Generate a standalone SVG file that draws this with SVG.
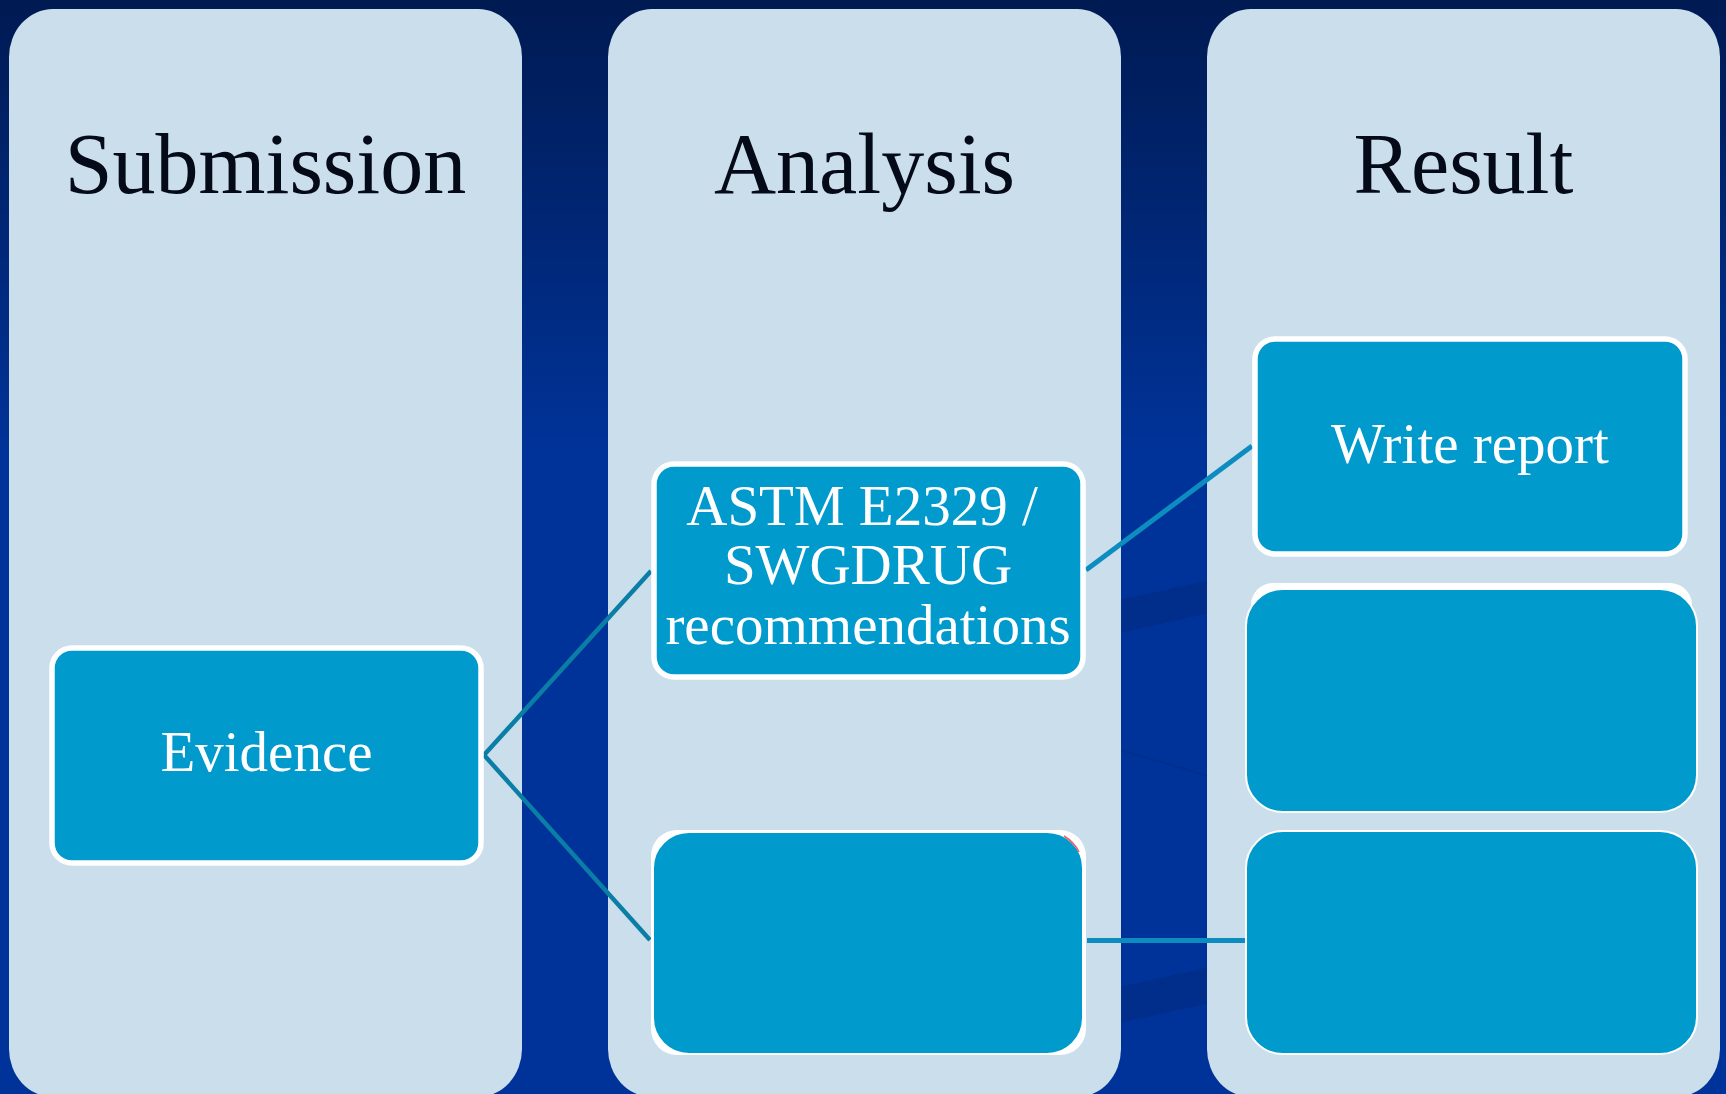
<svg xmlns="http://www.w3.org/2000/svg" width="1726" height="1094" viewBox="0 0 1726 1094">
  <defs>
    <linearGradient id="bg" x1="0" y1="0" x2="0" y2="1">
      <stop offset="0" stop-color="#001a52"/>
      <stop offset="0.42" stop-color="#00339a"/>
      <stop offset="1" stop-color="#003399"/>
    </linearGradient>
    <style>
      .col { fill: #cbdeeb; }
      .title { font-family: "Liberation Serif", "Times New Roman", serif; font-size: 86px; fill: #050a18; text-anchor: middle; }
      .node { fill: #019acc; stroke: #ffffff; stroke-width: 5.5; }
      .thin { fill: #019acc; stroke: #ffffff; stroke-width: 2; }
      .label { font-family: "Liberation Serif", "Times New Roman", serif; font-size: 57px; fill: #ffffff; text-anchor: middle; }
      .conn { fill: none; stroke: #0b7ea6; stroke-width: 4.5; }
      .conn2 { fill: none; stroke: #0d8dbf; stroke-width: 5; }
      .stripe { fill: #002e8a; }
    </style>
  </defs>

  <rect x="0" y="0" width="1726" height="1094" fill="url(#bg)"/>
  <g id="background-stripes">
    <polygon class="stripe" points="1110,602 1215,579 1215,612 1110,635"/>
    <line x1="1110" y1="747" x2="1215" y2="778" stroke="#002f8c" stroke-width="2"/>
    <polygon class="stripe" points="1110,989 1215,966 1215,1002 1110,1025"/>
  </g>

  <g id="columns">
    <g id="col-submission">
      <rect class="col" x="9" y="9" width="513" height="1088" rx="44" ry="48"/>
      <text class="title" x="265.5" y="193">Submission</text>
    </g>
    <g id="col-analysis">
      <rect class="col" x="608" y="9" width="513" height="1088" rx="44" ry="48"/>
      <text class="title" x="864.5" y="193">Analysis</text>
    </g>
    <g id="col-result">
      <rect class="col" x="1207" y="9" width="513" height="1088" rx="44" ry="48"/>
      <text class="title" x="1463.5" y="193">Result</text>
    </g>
  </g>

  <g id="connectors">
    <path class="conn" d="M484,755 L651,571"/>
    <path class="conn" d="M484,755 L650,940"/>
    <path class="conn2" d="M1086,570 L1252,446"/>
    <path class="conn2" d="M1087,940.5 L1245,940.5"/>
  </g>

  <g id="node-evidence">
    <rect class="node" x="52" y="648" width="429" height="215" rx="20"/>
    <text class="label" x="266.5" y="771" font-size="56">Evidence</text>
  </g>

  <g id="node-astm">
    <rect class="node" x="654" y="464" width="429" height="213" rx="20"/>
    <text class="label" x="862" y="525">ASTM E2329 /</text>
    <text class="label" x="868" y="584">SWGDRUG</text>
    <text class="label" x="868" y="644">recommendations</text>
  </g>

  <g id="node-analysis-2">
    <rect x="651" y="830" width="435" height="225" rx="26" fill="#ffffff"/>
    <rect class="thin" x="653" y="832" width="430" height="222" rx="36" stroke-width="1.5"/>
    <path d="M1064,836 Q1074,842 1079,852" fill="none" stroke="#e8343a" stroke-width="1.5" opacity="0.8"/>
  </g>

  <g id="node-write-report">
    <rect class="node" x="1255" y="339" width="430" height="215" rx="20"/>
    <text class="label" x="1470" y="463">Write report</text>
  </g>

  <g id="node-result-2">
    <rect x="1251" y="583" width="441" height="60" rx="22" fill="#ffffff"/>
    <rect class="thin" x="1246" y="589" width="451" height="223" rx="37"/>
  </g>

  <g id="node-result-3">
    <rect class="thin" x="1246" y="831" width="451" height="223" rx="37"/>
  </g>
</svg>
